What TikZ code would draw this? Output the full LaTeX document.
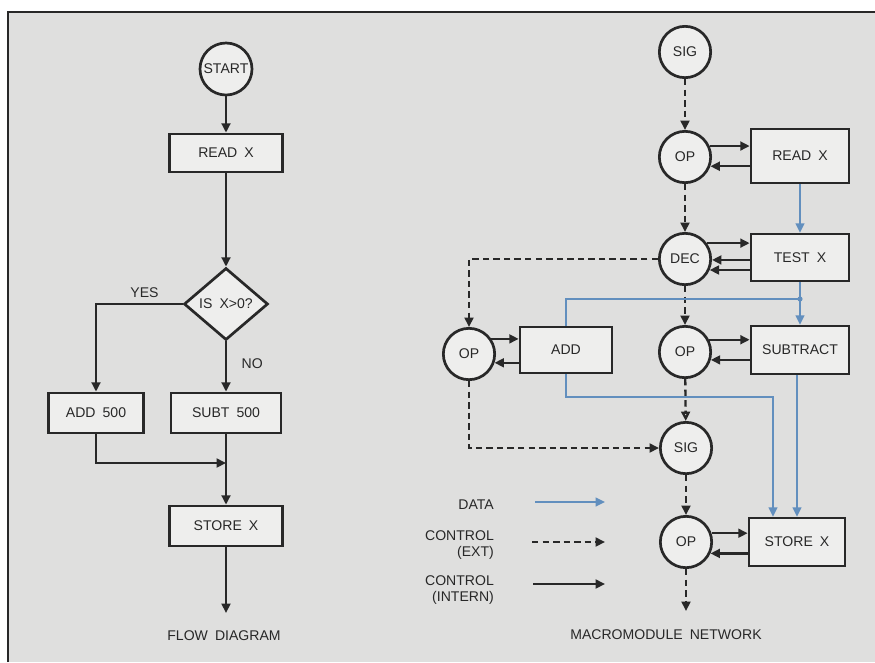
\documentclass[tikz,border=0pt]{standalone}
\usepackage{fontspec}
\setmainfont{Liberation Sans}[WordSpace=1.8]
\usepackage{tikz}
\usetikzlibrary{arrows.meta, positioning, calc, shapes}
\definecolor{panelgray}{RGB}{223,223,222}
\definecolor{boxfill}{RGB}{238,238,237}
\definecolor{inkgray}{RGB}{40,40,40}
\definecolor{datablue}{RGB}{98,143,190}

\begin{document}
\begin{tikzpicture}[x=0.03cm, y=-0.03cm,
  every node/.style={font=\fontsize{12}{13.5}\selectfont, text=inkgray},
  modcirc/.style={circle, draw=inkgray, line width=2.3pt, fill=boxfill, minimum size=1.54cm, inner sep=0pt},
  modbox/.style={rectangle, draw=inkgray, line width=2.3pt, fill=boxfill, inner sep=0pt},
  intern/.style={draw=inkgray, line width=2pt, -{Triangle[length=8pt,width=7.5pt]}},
  ext/.style={intern, dash pattern=on 5.5pt off 3.5pt},
  data/.style={draw=datablue, line width=1.6pt, -{Triangle[length=8pt,width=7.5pt]}}]
  \useasboundingbox (0,0) rectangle (875,662);
  \fill[panelgray] (8,12) rectangle (875,662);
  \draw[inkgray, line width=1.2pt] (8,662) -- (8,12) -- (875,12);

  % flow diagram
  \node[modcirc, minimum size=1.56cm] (start) at (226,69) {START};
  \node[modbox, minimum width=3.39cm, minimum height=1.14cm] (readx) at (226,153) {READ X};
  \node[diamond, draw=inkgray, line width=2.3pt, fill=boxfill, inner sep=0pt, aspect=1.17,
        minimum width=2.52cm, minimum height=2.16cm] (test) at (226,304) {IS X>0?};
  \node[modbox, minimum width=2.85cm, minimum height=1.2cm] (add500) at (96,413) {ADD 500};
  \node[modbox, minimum width=3.3cm, minimum height=1.2cm] (subt500) at (226,413) {SUBT 500};
  \node[modbox, minimum width=3.39cm, minimum height=1.2cm] (storex1) at (226,526) {STORE X};
  \coordinate (merge) at (226,463);
  \coordinate (flowout) at (226,613);
  \node (flowlbl) at (224,636) {FLOW DIAGRAM};

  \draw[intern] (start) -- (readx);
  \draw[intern] (readx) -- (test);
  \draw[intern] (test.west) -| node[pos=0.22, above=1pt] {YES} (add500.north);
  \draw[intern] (test.south) -- node[right=9pt, pos=0.45] {NO} (subt500.north);
  \draw[intern] (add500.south) |- (merge);
  \draw[intern] (subt500) -- (storex1);
  \draw[intern] (storex1.south) -- (flowout);

  % macromodule network
  \node[modcirc] (sig1) at (685,52) {SIG};
  \node[modcirc] (op1) at (685,157) {OP};
  \node[modbox, minimum width=2.94cm, minimum height=1.62cm] (readx2) at (800,156) {READ X};
  \node[modcirc] (dec) at (685,259) {DEC};
  \node[modbox, minimum width=2.94cm, minimum height=1.41cm] (testx) at (800,257.5) {TEST X};
  \node[modcirc] (op2) at (685,352) {OP};
  \node[modbox, minimum width=2.94cm, minimum height=1.44cm] (subtr) at (800,350) {SUBTRACT};
  \node[modcirc] (op3) at (469,354) {OP};
  \node[modbox, minimum width=2.76cm, minimum height=1.38cm] (addbox) at (566,350) {ADD};
  \node[modcirc] (sig2) at (686,448) {SIG};
  \node[modcirc] (op4) at (686,542) {OP};
  \node[modbox, minimum width=2.88cm, minimum height=1.44cm] (storex2) at (797,542) {STORE X};
  \coordinate (netout) at (686,611);
  \coordinate (dsplit) at (800,299);
  \coordinate (dturn) at (773,397);
  \node (netlbl) at (666,635) {MACROMODULE NETWORK};

  % internal control
  \draw[intern] (op1.24) -- (op1.24 -| readx2.west);
  \draw[intern] (readx2.west |- op1.-20) -- (op1.-20);
  \draw[intern] (dec.36) -- (dec.36 -| testx.west);
  \draw[intern] (testx.west |- dec.-2) -- (dec.-2);
  \draw[intern] (testx.west |- dec.-24) -- (dec.-24);
  \draw[intern] (op2.27) -- (op2.27 -| subtr.west);
  \draw[intern] (subtr.west |- op2.-17) -- (op2.-17);
  \draw[intern] (op3.34) -- (op3.34 -| addbox.west);
  \draw[intern] (addbox.west |- op3.-19) -- (op3.-19);
  \draw[intern] (op4.19) -- (op4.19 -| storex2.west);
  \draw[intern] (storex2.west |- op4.-25) -- (op4.-25);

  % external control
  \draw[ext] (sig1) -- (op1);
  \draw[ext] (op1) -- (dec);
  \draw[ext] (dec.west) -| (op3.north);
  \draw[ext] (dec) -- (op2);
  \draw[ext, -{Triangle[open,length=8pt,width=7.5pt]}] (op2) -- (sig2);
  \draw[ext] (op3.south) |- (sig2.west);
  \draw[ext] (sig2) -- (op4);
  \draw[ext] (op4.south) -- (netout);

  % data
  \draw[data] (readx2) -- (testx);
  \draw[data] (testx) -- (subtr);
  \draw[data, -] (dsplit) -| (addbox.north);
  \fill[datablue] (dsplit) circle (2.2pt);
  \draw[data] (addbox.south) |- (dturn) -- (dturn |- storex2.north);
  \draw[data] (storex2.north |- subtr.south) -- (storex2.north);

  % legend
  \node[anchor=east] (lgdata) at (498,505) {DATA};
  \node[anchor=east, align=right] (lgext) at (498,545) {CONTROL\\(EXT)};
  \node[anchor=east, align=right] (lgint) at (498,590) {CONTROL\\(INTERN)};
  \coordinate (lda) at (535,502); \coordinate (ldb) at (605,502);
  \coordinate (lea) at (532,542); \coordinate (leb) at (605,542);
  \coordinate (lia) at (533,584); \coordinate (lib) at (605,584);
  \draw[data] (lda) -- (ldb);
  \draw[ext] (lea) -- (leb);
  \draw[intern] (lia) -- (lib);
\end{tikzpicture}
\end{document}
